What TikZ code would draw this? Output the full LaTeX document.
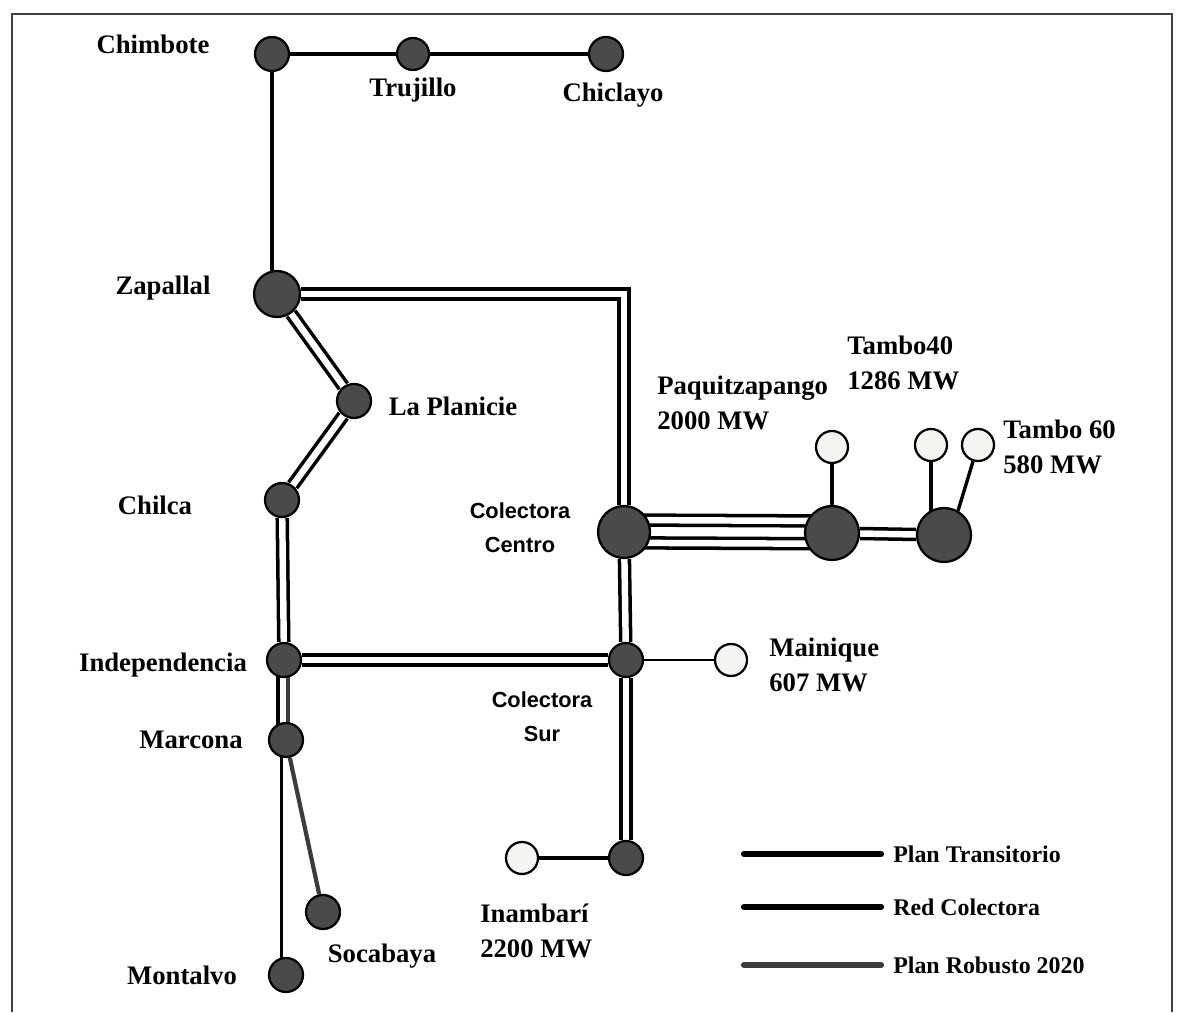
\documentclass[tikz,border=0pt]{standalone}
\usepackage{fontspec}
\setmainfont{Liberation Serif}
\setsansfont{Liberation Sans}
\usetikzlibrary{backgrounds}
\definecolor{busgr}{HTML}{4A4A4A}
\definecolor{robgr}{HTML}{3C3C3C}
\definecolor{genwh}{HTML}{F4F4F0}

\begin{document}
\begin{tikzpicture}[font=\fontsize{19}{25}\selectfont\bfseries,
  bus/.style={circle,draw=black,fill=busgr,line width=1.6pt,inner sep=0pt,minimum size=#1},
  bus/.default=0.85cm,
  gen/.style={circle,draw=black,fill=genwh,line width=1.6pt,inner sep=0pt,minimum size=0.8cm},
  lbl/.style={inner sep=0pt,align=left},
  col/.style={inner sep=0pt,align=center,font=\fontsize{15.5}{24}\selectfont\sffamily\bfseries},
  leg/.style={inner sep=0pt,anchor=west,font=\fontsize{17}{21}\selectfont\bfseries},
  sgl/.style={black,line width=2.4pt},
  thin1/.style={black,line width=1.4pt},
  dbl/.style={draw=black,line width=2.5pt,double=white,double distance=4.6pt},
  rob/.style={robgr,line width=3pt},
  lgl/.style={black,line width=4.4pt,line cap=round,shorten >=0.3cm}]
\useasboundingbox (0,0) rectangle (29.525,25.3);

% ---------------- sheet edge -----------------------------------------------
\draw[black!75,line width=0.8pt] (0.3,0) -- (0.3,24.95) -- (29.3,24.95) -- (29.3,0);

% ---------------- north branch ---------------------------------------------
\node[bus] (chim) at (6.8,23.95) {};
\node[bus=0.8cm] (truj) at (10.325,23.95) {};
\node[bus] (chic) at (15.15,23.95) {};
\node[bus=1.15cm] (zapa) at (6.925,17.95) {};
\node[lbl] (tchim) at (3.825,24.2) {Chimbote};
\node[lbl] (ttruj) at (10.325,23.05) {Trujillo};
\node[lbl] (tchic) at (15.325,22.925) {Chiclayo};
\node[lbl] (tzapa) at (4.075,18.1) {Zapallal};

% ---------------- coast ----------------------------------------------------
\node[bus] (plan) at (8.85,15.275) {};
\node[bus] (chil) at (7.05,12.8) {};
\node[bus] (inde) at (7.1,8.8) {};
\node[bus] (marc) at (7.15,6.8) {};
\node[bus] (soca) at (8.075,2.5) {};
\node[bus] (mont) at (7.15,0.925) {};
\node[lbl] (tplan) at (11.325,15.15) {La Planicie};
\node[lbl] (tchil) at (3.875,12.675) {Chilca};
\node[lbl] (tinde) at (4.075,8.675) {Independencia};
\node[lbl] (tmarc) at (4.775,6.8) {Marcona};
\node[lbl] (tsoca) at (9.55,1.4) {Socabaya};
\node[lbl] (tmont) at (4.55,0.925) {Montalvo};

% ---------------- collector network ----------------------------------------
\node[bus=1.3cm] (ccen) at (15.6,12) {};
\node[bus] (csur) at (15.65,8.8) {};
\node[bus] (cina) at (15.65,3.85) {};
\node[gen] (gina) at (13.05,3.85) {};
\node[gen] (gmai) at (18.275,8.8) {};
\node[col] (tccen) at (13,12.1) {Colectora\\Centro};
\node[col] (tcsur) at (13.55,7.375) {Colectora\\Sur};
\node[lbl,anchor=north west] (tina) at (12,2.7) {Inambarí\\2200 MW};
\node[lbl,anchor=north west] (tmai) at (19.225,9.35) {Mainique\\607 MW};

% ---------------- eastern plants -------------------------------------------
\node[bus=1.35cm] (hubp) at (20.8,11.975) {};
\node[bus=1.35cm] (hubt) at (23.6,11.925) {};
\node[gen] (gpaq) at (20.8,14.125) {};
\node[gen] (gt40) at (23.275,14.175) {};
\node[gen] (gt60) at (24.45,14.175) {};
\node[lbl,anchor=north west] (tpaq) at (16.425,15.9) {Paquitzapango\\2000 MW};
\node[lbl,anchor=north west] (tt40) at (21.175,16.9) {Tambo40\\1286 MW};
\node[lbl,anchor=north west] (tt60) at (25.075,14.8) {Tambo 60\\580 MW};

% ---------------- connectors -----------------------------------------------
\begin{scope}[on background layer]
  \draw[sgl] (chim) -- (truj);
  \draw[sgl] (truj) -- (chic);
  \draw[sgl] (chim) -- (chim |- zapa);
  \draw[dbl] (zapa) -| (ccen);
  \draw[dbl] (zapa) -- (plan);
  \draw[dbl] (plan) -- (chil);
  \draw[dbl] (chil) -- (inde);
  \draw[dbl] (inde) -- (csur);
  \draw[dbl] (ccen) -- (csur);
  \draw[dbl] (csur) -- (cina);
  \draw[sgl] (cina) -- (gina);
  \draw[thin1] (csur) -- (gmai);
  \draw[black,line width=2.5pt] ([xshift=-0.15cm]inde.center) -- ([xshift=-0.15cm]inde.center |- marc);
  \draw[rob] ([xshift=0.1cm]inde.center) -- ([xshift=0.1cm]inde.center |- marc);
  \draw[sgl] ([xshift=-0.12cm]marc.center) -- ([xshift=-0.12cm]marc.center |- mont);
  \draw[rob] (marc) -- (soca);
  \draw[dbl] ([yshift=0.3cm]ccen.center) -- ([yshift=0.3cm]hubp.center);
  \draw[dbl] ([yshift=-0.27cm]ccen.center) -- ([yshift=-0.27cm]hubp.center);
  \draw[dbl] (hubp) -- (hubt);
  \draw[sgl] (gpaq) -- (hubp);
  \draw[sgl] (gt40) -- (gt40 |- hubt);
  \draw[sgl] (gt60) -- (hubt.60);
\end{scope}

% ---------------- legend ---------------------------------------------------
\node[leg] (ltra) at (22.325,3.95) {Plan Transitorio};
\node[leg] (lcol) at (22.325,2.625) {Red Colectora};
\node[leg] (lrob) at (22.325,1.175) {Plan Robusto 2020};
\coordinate (stra) at (18.6,3.95);
\coordinate (scol) at (18.6,2.625);
\coordinate (srob) at (18.6,1.175);
\draw[lgl] (stra) -- (ltra.west);
\draw[lgl] (scol) -- (lcol.west);
\draw[lgl,robgr] (srob) -- (lrob.west);

\end{tikzpicture}
\end{document}
